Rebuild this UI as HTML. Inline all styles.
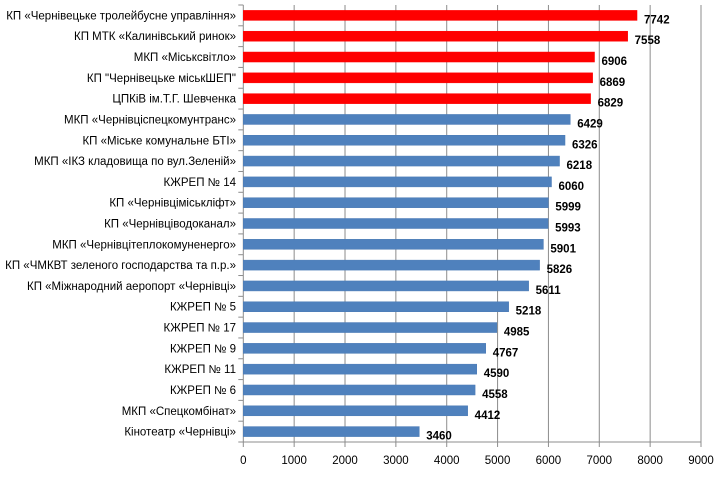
<!DOCTYPE html>
<html><head><meta charset="utf-8"><style>
body{margin:0;background:#fff}
svg{display:block;font-family:"Liberation Sans",Arial,sans-serif}
</style></head><body>
<svg width="720" height="485" xmlns="http://www.w3.org/2000/svg">
<g id="g"></g>
</svg>
<script>
(function(){
const data=[["КП «Чернівецьке тролейбусне управління»",7742,1],["КП МТК «Калинівський ринок»",7558,1],["МКП «Міськсвітло»",6906,1],["КП \"Чернівецьке міськШЕП\"",6869,1],["ЦПКіВ ім.Т.Г. Шевченка",6829,1],["МКП «Чернівціспецкомунтранс»",6429,0],["КП «Міське комунальне БТІ»",6326,0],["МКП «ІКЗ кладовища по вул.Зеленій»",6218,0],["КЖРЕП № 14",6060,0],["КП «Чернівціміськліфт»",5999,0],["КП «Чернівціводоканал»",5993,0],["МКП «Чернівцітеплокомуненерго»",5901,0],["КП «ЧМКВТ зеленого господарства та п.р.»",5826,0],["КП «Міжнародний аеропорт «Чернівці»",5611,0],["КЖРЕП № 5",5218,0],["КЖРЕП № 17",4985,0],["КЖРЕП № 9",4767,0],["КЖРЕП № 11",4590,0],["КЖРЕП № 6",4558,0],["МКП «Спецкомбінат»",4412,0],["Кінотеатр «Чернівці»",3460,0]];
const x0=243.3,k=(701-243.3)/9000,t0=5,bot=442,rh=(bot-t0)/21;
let s='';
for(let i=1;i<=9;i++){const x=x0+i*1000*k;s+=`<line x1="${x}" y1="${t0}" x2="${x}" y2="${bot}" stroke="#8c8c8c" stroke-width="1"/>`;}
s+=`<line x1="${x0}" y1="${t0}" x2="${x0}" y2="${bot}" stroke="#8c8c8c"/><line x1="${x0}" y1="${bot}" x2="701" y2="${bot}" stroke="#8c8c8c"/>`;
for(let i=0;i<=21;i++){const y=t0+i*rh;s+=`<line x1="${x0-5}" y1="${y}" x2="${x0}" y2="${y}" stroke="#8c8c8c"/>`;}
for(let i=0;i<=9;i++){const x=x0+i*1000*k;s+=`<line x1="${x}" y1="${bot}" x2="${x}" y2="${bot+5}" stroke="#8c8c8c"/><text x="${x}" y="464" font-size="11.5" text-anchor="middle">${i*1000}</text>`;}
data.forEach((d,i)=>{const c=t0+(i+0.5)*rh;const w=d[1]*k;
s+=`<rect x="${x0}" y="${c-5}" width="${w}" height="10" fill="${d[2]?'#ff0000':'#4f81bd'}" stroke="${d[2]?'#ff0000':'#4a7ab5'}" stroke-width="0.5"/>`;
s+=`<text x="236" y="${c+4}" font-size="11.5" text-anchor="end">${d[0]}</text>`;
s+=`<text x="${x0+w+7}" y="${c+8}" font-size="11.5" font-weight="bold">${d[1]}</text>`;});
document.getElementById('g').innerHTML=s;
})();
</script>
</body></html>
